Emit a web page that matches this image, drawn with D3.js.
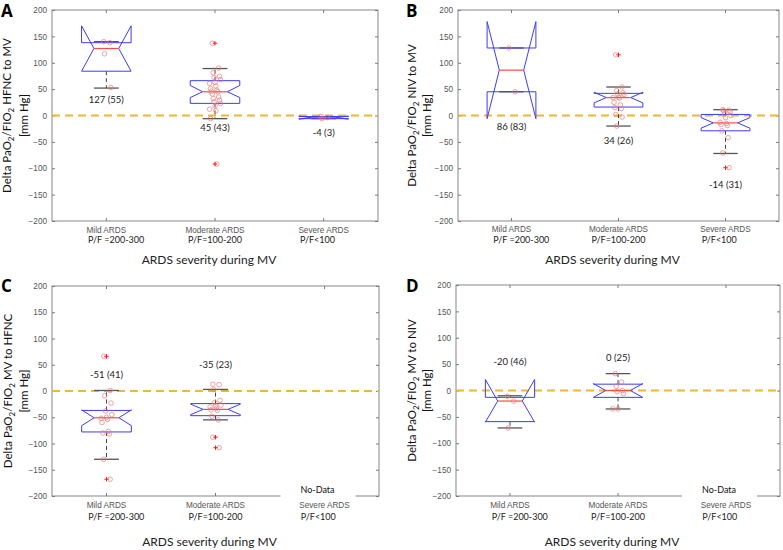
<!DOCTYPE html>
<html><head><meta charset="utf-8">
<script src="https://cdn.jsdelivr.net/npm/d3@7"></script>
<style>body{margin:0;background:#fff}svg{display:block}</style>
</head><body><svg id="c" width="783" height="550"></svg>
<script>
// ---------------- data ----------------
const categories = ["Mild ARDS", "Moderate ARDS", "Severe ARDS"];
const pfLabels = ["P/F =200-300", "P/F=100-200", "P/F<100"];
const yTicks = [-200, -150, -100, -50, 0, 50, 100, 150, 200];
const panelLetters = ["A", "B", "C", "D"];
const yLabelTails = [" HFNC to MV", " NIV to MV", " MV to HFNC", " MV to NIV"];
const yLabelUnit = "[mm Hg]";
const xTitle = "ARDS severity during MV";
const noDataLabel = "No-Data";
const referenceLine = 0;

// Panel A: HFNC -> MV
const A_q1 = [84, 23, -6];
const A_median = [127, 45, -4];
const A_q3 = [138, 66, -2];
const A_notchLo = [84, 34, -7];
const A_notchHi = [170, 57, -1];
const A_whiskerLo = [52, -6, -6];
const A_whiskerHi = [140, 89, -2];
const A_outliers = [[], [137, -92], []];
const A_points = [[140, 138, 117, 53],
  [137, 90, 81, 74, 72, 68, 63, 61, 56, 51, 48, 46, 45, 41, 35, 32, 29, 26, 23, 18, 12, 9, -6, -92],
  [-2, -4, -6]];
const A_labels = ["127 (55)", "45 (43)", "-4 (3)"];
const A_labelY = [30, -23, -32];

// Panel B: NIV -> MV
const B_q1 = [45, 16, -29];
const B_median = [86, 34, -14];
const B_q3 = [128, 42, 2];
const B_notchLo = [-6, 24, -24];
const B_notchHi = [178, 44, -4];
const B_whiskerLo = [45, -20, -72];
const B_whiskerHi = [128, 54, 11];
const B_outliers = [[], [115], [-99]];
const B_points = [[128, 45],
  [115, 54, 47, 43, 41, 40, 35, 34, 33, 25, 20, 15, 13, 2, -3, -20],
  [11, 10, 9, 7, 3, 0, -4, -13, -15, -17, -19, -29, -42, -71, -99]];
const B_labels = ["86 (83)", "34 (26)", "-14 (31)"];
const B_labelY = [-21, -48, -131];

// Panel C: MV -> HFNC
const C_q1 = [-78, -47, null];
const C_median = [-51, -35, null];
const C_q3 = [-37, -24, null];
const C_notchLo = [-66, -45, null];
const C_notchHi = [-36, -25, null];
const C_whiskerLo = [-130, -55, null];
const C_whiskerHi = [1, 3, null];
const C_outliers = [[66, -168], [-88, -108], []];
const C_points = [[66, 1, -9, -23, -38, -45, -50, -52, -54, -60, -77, -80, -82, -130, -168],
  [13, 12, 3, -18, -22, -27, -28, -30, -33, -36, -37, -48, -55, -88, -108],
  []];
const C_labels = ["-51 (41)", "-35 (23)", null];
const C_labelY = [32, 50, null];

// Panel D: MV -> NIV
const D_q1 = [-59, -13, null];
const D_median = [-20, 0, null];
const D_q3 = [-13, 12, null];
const D_notchLo = [-60, -13, null];
const D_notchHi = [21, 13, null];
const D_whiskerLo = [-71, -35, null];
const D_whiskerHi = [-10, 32, null];
const D_outliers = [[], [], []];
const D_points = [[-11, -20, -71], [32, 16, 8, 0, -2, -6, -35, -35], []];
const D_labels = ["-20 (46)", "0 (25)", null];
const D_labelY = [55, 63, null];

// ---------------- layout / style ----------------
const panels = [
  {q1: A_q1, med: A_median, q3: A_q3, nLo: A_notchLo, nHi: A_notchHi, wLo: A_whiskerLo, wHi: A_whiskerHi, out: A_outliers, pts: A_points, lab: A_labels, labY: A_labelY},
  {q1: B_q1, med: B_median, q3: B_q3, nLo: B_notchLo, nHi: B_notchHi, wLo: B_whiskerLo, wHi: B_whiskerHi, out: B_outliers, pts: B_points, lab: B_labels, labY: B_labelY},
  {q1: C_q1, med: C_median, q3: C_q3, nLo: C_notchLo, nHi: C_notchHi, wLo: C_whiskerLo, wHi: C_whiskerHi, out: C_outliers, pts: C_points, lab: C_labels, labY: C_labelY},
  {q1: D_q1, med: D_median, q3: D_q3, nLo: D_notchLo, nHi: D_notchHi, wLo: D_whiskerLo, wHi: D_whiskerHi, out: D_outliers, pts: D_points, lab: D_labels, labY: D_labelY}
];
const layouts = [
  {x0: 52, x1: 378, y0: 10, y1: 221, letterX: 1, letterY: 17, yl1: 11, yl2: 27.5, l1: 11.5, l2: 21.5, title: 43, noData: false},
  {x0: 458, x1: 779, y0: 10, y1: 221, letterX: 406, letterY: 17, yl1: 416, yl2: 431, l1: 11, l2: 21.5, title: 43, noData: false},
  {x0: 52, x1: 379, y0: 286, y1: 496, letterX: 1, letterY: 292, yl1: 11.5, yl2: 28, l1: 12, l2: 23.5, title: 50, noData: true},
  {x0: 456, x1: 780, y0: 285, y1: 496, letterX: 406, letterY: 292, yl1: 416, yl2: 431, l1: 12, l2: 23.5, title: 50, noData: true}
];
const line2Anchor = ["start", "middle", "start"];
const CAL = "Lato, 'Open Sans', sans-serif";
const HEL = "'Liberation Sans', Arial, sans-serif";
const BLUE = "#3b3bff", RED = "#ff4a4a", PT = "#f07575", GRAY = "#7a7a7a";

const svg = d3.select("#c");

panels.forEach((d, pi) => {
  const L = layouts[pi];
  const g = svg.append("g");
  const x = d3.scaleBand().domain(categories).range([L.x0, L.x1]);
  const y = d3.scaleLinear().domain([-200, 200]).range([L.y1, L.y0]);
  const cx = c => x(c) + x.bandwidth() / 2;
  const hw = x.bandwidth() * 0.228;

  // frame
  g.append("rect").attr("x", L.x0).attr("y", L.y0).attr("width", L.x1 - L.x0).attr("height", L.y1 - L.y0)
    .attr("fill", "none").attr("stroke", GRAY).attr("stroke-width", 0.9);

  // axes with inward ticks
  const ax = g.append("g").attr("transform", `translate(${L.x0},0)`)
    .call(d3.axisLeft(y).tickValues(yTicks).tickSize(-3).tickPadding(5));
  ax.select(".domain").remove();
  ax.selectAll("line").attr("stroke", GRAY);
  ax.selectAll("text").attr("font-family", HEL).attr("font-size", 8.2).attr("fill", "#555");
  const axr = g.append("g").attr("transform", `translate(${L.x1},0)`)
    .call(d3.axisRight(y).tickValues(yTicks).tickSize(-3).tickFormat(""));
  axr.select(".domain").remove();
  axr.selectAll("line").attr("stroke", GRAY);
  const axb = g.append("g").attr("transform", `translate(0,${L.y1})`)
    .call(d3.axisBottom(x).tickSize(-3).tickFormat(""));
  axb.select(".domain").remove();
  axb.selectAll("line").attr("stroke", GRAY);
  const axt = g.append("g").attr("transform", `translate(0,${L.y0})`)
    .call(d3.axisTop(x).tickSize(-3).tickFormat(""));
  axt.select(".domain").remove();
  axt.selectAll("line").attr("stroke", GRAY);

  // category labels
  categories.forEach((c, i) => {
    const t1 = g.append("text").attr("x", cx(c)).attr("y", L.y1 + L.l1).attr("text-anchor", "middle")
      .attr("font-family", HEL).attr("font-size", 8.2).attr("fill", "#555").text(c);
    const w1 = t1.node().getComputedTextLength();
    const x2 = line2Anchor[i] === "start" ? cx(c) - w1 / 2 + 1.5 : cx(c);
    g.append("text").attr("x", x2).attr("y", L.y1 + L.l2).attr("text-anchor", line2Anchor[i])
      .attr("font-family", CAL).attr("font-size", 9).attr("fill", "#222").text(pfLabels[i]);
  });

  // x title
  g.append("text").attr("x", (L.x0 + L.x1) / 2 - 6).attr("y", L.y1 + L.title).attr("text-anchor", "middle")
    .attr("font-family", CAL).attr("font-size", 12).attr("fill", "#222").text(xTitle);

  // y label
  const cy = (L.y0 + L.y1) / 2;
  const yl = g.append("text").attr("x", L.yl1).attr("y", cy).attr("text-anchor", "middle")
    .attr("transform", `rotate(-90,${L.yl1},${cy})`)
    .attr("font-family", CAL).attr("font-size", 11.5).attr("fill", "#111");
  yl.append("tspan").text("Delta PaO");
  yl.append("tspan").attr("font-size", 8).attr("dy", 3).text("2");
  yl.append("tspan").attr("dy", -3).text("/FIO");
  yl.append("tspan").attr("font-size", 8).attr("dy", 3).text("2");
  yl.append("tspan").attr("dy", -3).text(yLabelTails[pi]);
  g.append("text").attr("x", L.yl2).attr("y", cy).attr("text-anchor", "middle")
    .attr("transform", `rotate(-90,${L.yl2},${cy})`)
    .attr("font-family", CAL).attr("font-size", 11.5).attr("fill", "#111").text(yLabelUnit);

  // panel letter
  g.append("text").attr("x", L.letterX).attr("y", L.letterY).attr("font-family", "'Open Sans', Arial, sans-serif")
    .attr("font-weight", "bold").attr("font-size", 17).attr("fill", "#000").text(panelLetters[pi]);

  // reference line
  g.append("line").attr("x1", L.x0).attr("x2", L.x1).attr("y1", y(referenceLine)).attr("y2", y(referenceLine))
    .attr("stroke", "#f2b632").attr("stroke-width", 2).attr("stroke-dasharray", "8,5");

  // boxes
  categories.forEach((c, i) => {
    if (d.med[i] === null) return;
    const m = cx(c);
    const dash = (a, b) => g.append("line").attr("x1", m).attr("x2", m).attr("y1", y(a)).attr("y2", y(b))
      .attr("stroke", "#444").attr("stroke-width", 1).attr("stroke-dasharray", "4,3");
    if (d.wHi[i] > d.q3[i]) dash(d.q3[i], d.wHi[i]);
    if (d.wLo[i] < d.q1[i]) dash(d.q1[i], d.wLo[i]);
    [d.wHi[i], d.wLo[i]].forEach(v => g.append("line").attr("x1", m - hw / 2).attr("x2", m + hw / 2)
      .attr("y1", y(v)).attr("y2", y(v)).attr("stroke", "#555").attr("stroke-width", 1.3));
    const p = [[m - hw, d.q1[i]], [m - hw, d.nLo[i]], [m - hw / 2, d.med[i]], [m - hw, d.nHi[i]], [m - hw, d.q3[i]],
      [m + hw, d.q3[i]], [m + hw, d.nHi[i]], [m + hw / 2, d.med[i]], [m + hw, d.nLo[i]], [m + hw, d.q1[i]]];
    g.append("path").attr("d", d3.line().x(q => q[0]).y(q => y(q[1]))(p) + "Z")
      .attr("fill", "none").attr("stroke", BLUE).attr("stroke-width", 1);
    g.append("line").attr("x1", m - hw / 2).attr("x2", m + hw / 2).attr("y1", y(d.med[i])).attr("y2", y(d.med[i]))
      .attr("stroke", RED).attr("stroke-width", 1.2);
    d.pts[i].forEach((v, k) => {
      const j = ((k * 7 + 3) % 13 - 6) * 0.9;
      g.append("circle").attr("cx", m + j).attr("cy", y(v)).attr("r", 2.3)
        .attr("fill", "none").attr("stroke", PT).attr("stroke-width", 0.8).attr("opacity", 0.85);
    });
    d.out[i].forEach(v => {
      g.append("path").attr("d", `M${m - 2.2},${y(v)}H${m + 2.2}M${m},${y(v) - 2.2}V${y(v) + 2.2}`)
        .attr("stroke", "#ff1a1a").attr("stroke-width", 1);
    });
    g.append("text").attr("x", m).attr("y", y(d.labY[i])).attr("dy", "0.35em").attr("text-anchor", "middle")
      .attr("font-family", CAL).attr("font-size", 9.5).attr("fill", "#222").text(d.lab[i]);
  });

  // No-Data label (white patch covers the axis under it)
  if (L.noData) {
    const m = cx(categories[2]);
    const patch = g.append("rect").attr("fill", "#fff");
    const t = g.append("text").attr("x", m - 7).attr("y", L.y1 - 3.5).attr("text-anchor", "middle")
      .attr("font-family", CAL).attr("font-size", 9).attr("fill", "#111").text(noDataLabel);
    const bb = t.node().getBBox();
    patch.attr("x", bb.x - 20).attr("y", bb.y - 2).attr("width", bb.width + 41).attr("height", bb.height + 8);
  }
});
</script></body></html>
